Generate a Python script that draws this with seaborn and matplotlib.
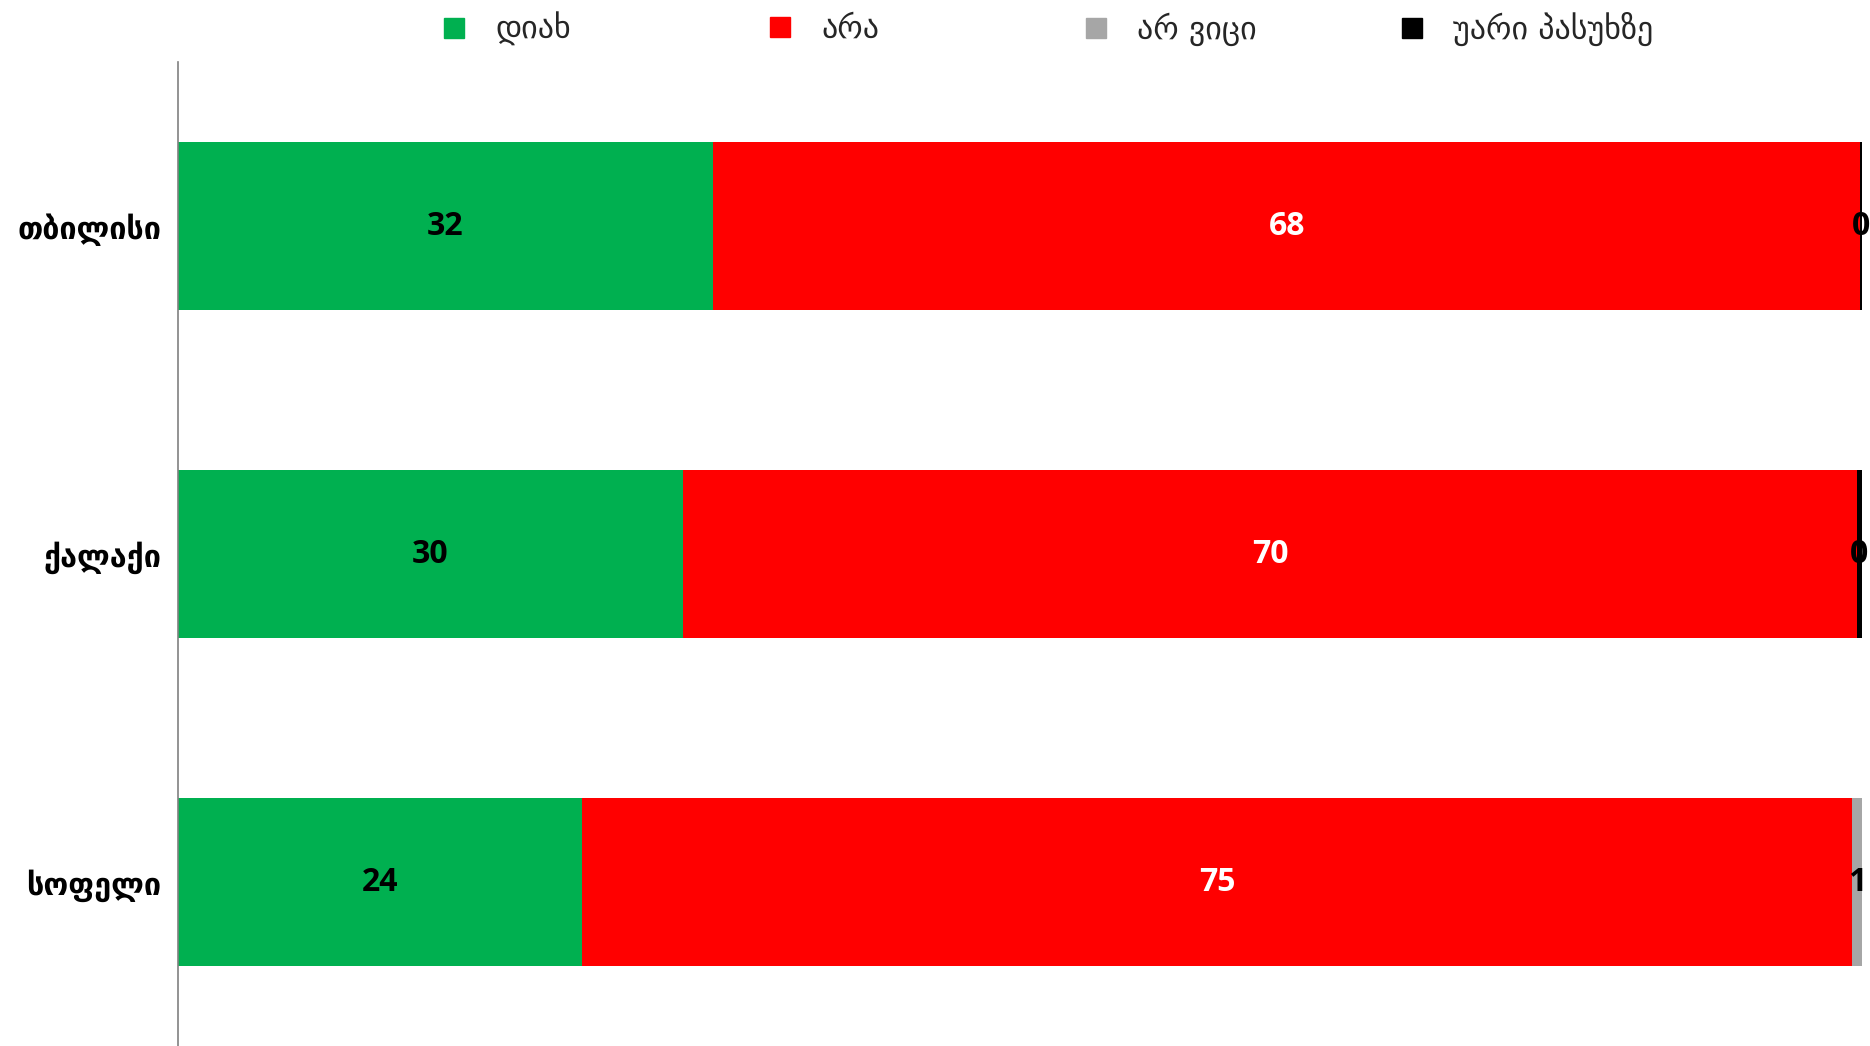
import numpy as np
import pandas as pd
import matplotlib.pyplot as plt
import seaborn as sns
from matplotlib.lines import Line2D

categories = ["თბილისი", "ქალაქი", "სოფელი"]
series_names = ["დიახ", "არა", "არ ვიცი", "უარი პასუხზე"]
yes = [31.8, 30.0, 24.0]
no = [68.1, 69.7, 75.4]
dont_know = [0.0, 0.0, 0.6]
refuse = [0.1, 0.3, 0.0]
colors = ["#00b050", "#ff0000", "#a6a6a6", "#000000"]
label_colors = ["black", "white", "black", "black"]

sns.set_theme(style="white")
plt.rcParams["font.family"] = ["DejaVu Sans"]

df = pd.DataFrame({"cat": categories, series_names[0]: yes, series_names[1]: no,
                   series_names[2]: dont_know, series_names[3]: refuse})
vals = df[series_names].to_numpy()
cum = np.cumsum(vals, axis=1)

fig = plt.figure(figsize=(18.7, 10.46), dpi=100)
ax = fig.add_axes([0.095, 0.0, 0.9007, 0.9407])

# stacked bars: draw cumulative totals from the back to the front
for i in range(len(series_names) - 1, -1, -1):
    sns.barplot(x=cum[:, i], y=df["cat"], orient="h", color=colors[i],
                width=0.51, saturation=1, linewidth=0, ax=ax, zorder=2)

# segment labels
for i in range(len(series_names)):
    for r in range(len(categories)):
        v = vals[r, i]
        if v <= 0:
            continue
        xc = cum[r, i] - v / 2
        ax.text(xc, r, f"{v:.0f}", ha="center", va="center", fontsize=23,
                fontweight="bold", family="Open Sans", color=label_colors[i],
                clip_on=False, zorder=5)

ax.set_xlim(0, 100)
ax.set_ylim(2.5, -0.5)
ax.set_xlabel("")
ax.set_ylabel("")
ax.set_xticks([])
ax.tick_params(axis="y", length=0, pad=12, labelcolor="black")
for lab in ax.get_yticklabels():
    lab.set_fontsize(22)
    lab.set_fontweight("bold")
for s in ["top", "right", "bottom"]:
    ax.spines[s].set_visible(False)
ax.spines["left"].set_color("#808080")
ax.spines["left"].set_linewidth(1.2)

# legend entries across the top
legend_x = [0.219, 0.393, 0.562, 0.731]
for name, c, lx in zip(series_names, colors, legend_x):
    h = Line2D([], [], marker="s", linestyle="", markersize=14, color=c)
    fig.legend(handles=[h], labels=[name], loc="center left",
               bbox_to_anchor=(lx, 0.972), frameon=False,
               prop={"size": 23}, handletextpad=0.3, borderaxespad=0)

plt.savefig("out.png", dpi=100)
